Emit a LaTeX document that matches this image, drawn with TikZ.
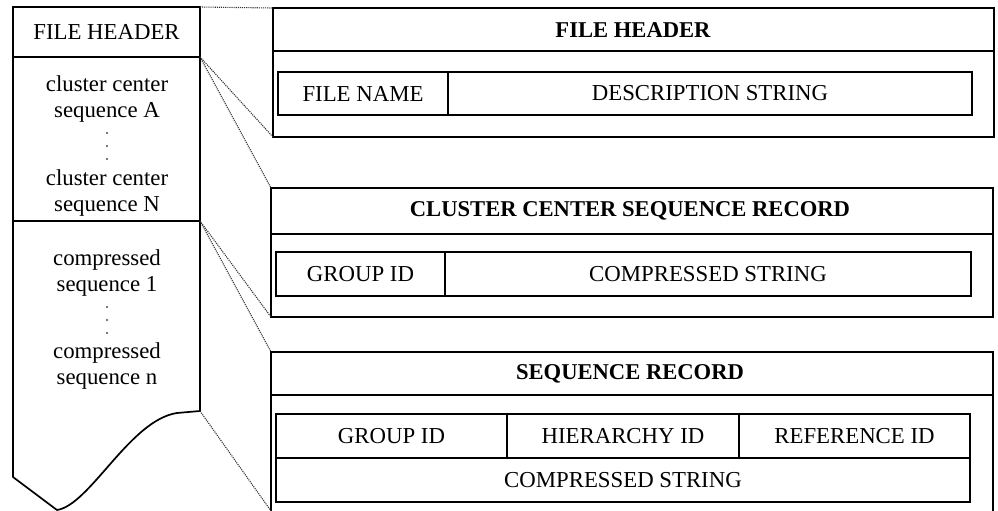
\documentclass[tikz,border=0pt]{standalone}
\usepackage{fontspec}
\setmainfont{Liberation Serif}
\begin{document}
\begin{tikzpicture}[x=1pt,y=-1pt,
  frame/.style={draw=black, line width=1.7pt, inner sep=0pt, outer sep=0pt},
  cell/.style={draw=black, line width=1.7pt, inner sep=0pt, outer sep=0pt, font=\fontsize{22.8}{26}\selectfont},
  ttl/.style={inner sep=0pt, font=\fontsize{22.6}{26}\selectfont\bfseries},
  txt/.style={inner sep=0pt, align=center, font=\fontsize{22.8}{26}\selectfont},
  link/.style={draw=black!80, line width=1.1pt, densely dotted},
  vdot/.style={fill=black!70}]
\fill[white] (0,0) rectangle (998,511);
\useasboundingbox (0,0) rectangle (998,511);

% ---------- left column ----------
\node[cell, minimum width=187pt, minimum height=50pt] (lhdr) at (106.5,32) {FILE HEADER};
\node[frame, minimum width=187pt, minimum height=164pt] (lclu) at (106.5,139) {};
\coordinate (lcompNW) at (13,221);
\coordinate (lcompNE) at (200,221);
\coordinate (lcompSE) at (200,411);
\draw[line width=1.7pt, line join=round] (lcompNW) -- (13,477) -- (57,510)
  .. controls (90,505) and (130,420) .. (177,413) -- (lcompSE) -- (lcompNE);
\node[txt] (cA) at (107,99) {cluster center\\sequence A};
\node[txt] (cN) at (107,193) {cluster center\\sequence N};
\node[txt] (c1) at (107,273) {compressed\\sequence 1};
\node[txt] (cn) at (107,366) {compressed\\sequence n};
\foreach \y in {133,146,159,307,320,333} \fill[vdot] (107,\y) circle (1.1pt);

% ---------- FILE HEADER record ----------
\node[frame, minimum width=721pt, minimum height=129pt] (fh) at (633.5,72.5) {};
\draw[line width=1.7pt] (fh.west |- 0,51) -- (fh.east |- 0,51);
\node[ttl] (fhttl) at (633,30) {FILE HEADER};
\node[cell, minimum width=170pt, minimum height=43pt] (fname) at (363,93.5) {FILE NAME};
\node[cell, minimum width=524pt, minimum height=43pt] (fdesc) at (710,93.5) {DESCRIPTION STRING};

% ---------- CLUSTER CENTER SEQUENCE RECORD ----------
\node[frame, minimum width=722pt, minimum height=129pt] (cc) at (632,252.5) {};
\draw[line width=1.7pt] (cc.west |- 0,234) -- (cc.east |- 0,234);
\node[ttl] (ccttl) at (630,211) {CLUSTER CENTER SEQUENCE RECORD};
\node[cell, minimum width=169pt, minimum height=44pt] (ccgid) at (360.5,274) {GROUP ID};
\node[cell, minimum width=526pt, minimum height=44pt] (cccs) at (708,274) {COMPRESSED STRING};

% ---------- SEQUENCE RECORD ----------
\coordinate (srNW) at (271,352);
\coordinate (srNE) at (993,352);
\coordinate (srSW) at (271,511);
\draw[line width=1.7pt] (srSW) -- (srNW) -- (srNE) -- (993,511);
\draw[line width=1.7pt] (271,395) -- (993,395);
\node[ttl] (srttl) at (630,374) {SEQUENCE RECORD};
\node[cell, minimum width=231pt, minimum height=44pt] (srgid) at (391.5,436) {GROUP ID};
\node[cell, minimum width=232pt, minimum height=44pt] (srhid) at (623,436) {HIERARCHY ID};
\node[cell, minimum width=231pt, minimum height=44pt] (srrid) at (854.5,436) {REFERENCE ID};
\node[cell, minimum width=694pt, minimum height=44pt] (srcs) at (623,480) {COMPRESSED STRING};

% ---------- dotted connectors ----------
\draw[link] (lhdr.north east) -- (fh.north west);
\draw[link] (lhdr.south east) -- (fh.south west);
\draw[link] (lhdr.south east) -- (cc.north west);
\draw[link] (lcompNE) -- (cc.south west);
\draw[link] (lcompNE) -- (srNW);
\draw[link] (lcompSE) -- (srSW);
\end{tikzpicture}
\end{document}
